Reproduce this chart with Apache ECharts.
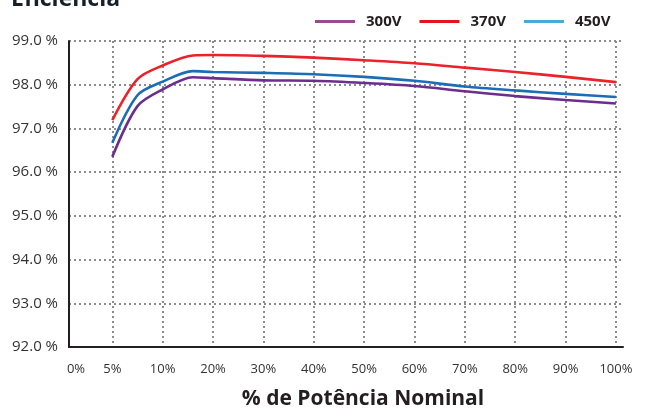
<!DOCTYPE html>
<html>
<head>
<meta charset="utf-8">
<script src="https://cdn.jsdelivr.net/npm/echarts@6/dist/echarts.min.js"></script>
<style>
html,body{margin:0;padding:0;background:#fff;}
#chart{width:654px;height:412px;}
</style>
</head>
<body>
<div id="chart"></div>
<script>
// ---- data ----
var xTickLabels = ['0%','5%','10%','20%','30%','40%','50%','60%','70%','80%','90%','100%'];
var loadPct = [5, 7.5, 10, 16, 20, 30, 40, 50, 60, 70, 80, 90, 100];
var eff300 = [96.35, 97.51, 97.89, 98.17, 98.15, 98.10, 98.09, 98.04, 97.97, 97.85, 97.74, 97.65, 97.57];
var eff370 = [97.19, 98.13, 98.44, 98.67, 98.68, 98.66, 98.62, 98.56, 98.49, 98.39, 98.29, 98.18, 98.06];
var eff450 = [96.67, 97.76, 98.07, 98.31, 98.29, 98.27, 98.24, 98.18, 98.09, 97.96, 97.87, 97.79, 97.72];
var seriesNames = ['300V', '370V', '450V'];
var yMin = 92, yMax = 99;

// the x axis is non-linear: 0,5,10 then steps of 10 -> map % to tick index
function pctToIndex(p){ return p <= 10 ? p / 5 : 1 + p / 10; }
var tickPcts = [0,5,10,20,30,40,50,60,70,80,90,100];
function pairs(vals){ return loadPct.map(function(p,i){ return [pctToIndex(p), vals[i]]; }); }

var font = '"Open Sans", "DejaVu Sans", sans-serif';
var gridIdx = tickPcts.map(pctToIndex);
var xMin = 0.14, xMax = 11.14;

var chart = echarts.init(document.getElementById('chart'));
var lineCol = ['#6b2e8f', '#e8232a', '#1c6db4'];
var legendCol = ['#9b4a8e', '#e3141d', '#4aa8e0'];
var gridLine = {color: '#8c8c8c', type: [2, 3], width: 2};

chart.setOption({
  backgroundColor: '#fff',
  animation: false,
  title: {
    text: 'Eficiência', left: 6, top: -17,
    textStyle: {fontFamily: font, fontWeight: 'bold', fontSize: 23, color: '#16202c'}
  },
  legend: {
    left: 310, top: 9, itemWidth: 40, itemHeight: 3, itemGap: 18, icon: 'rect',
    textStyle: {fontFamily: font, fontWeight: 'bold', fontSize: 15, color: '#231f20', padding: [0,0,0,6]},
    data: seriesNames.map(function(n,i){ return {name: n, itemStyle: {color: legendCol[i]}}; })
  },
  grid: {left: 69, right: 31, top: 41, bottom: 65, containLabel: false, outerBoundsMode: 'none'},
  xAxis: {
    type: 'value', min: xMin, max: xMax,
    name: '% de Potência Nominal', nameLocation: 'middle', nameGap: 42,
    nameTextStyle: {fontFamily: font, fontWeight: 'bold', fontSize: 21, color: '#231f20', padding: [0,0,0,34]},
    axisLine: {show: true, lineStyle: {color: '#231f20', width: 2}},
    axisTick: {show: false, customValues: gridIdx.slice(1)},
    axisLabel: {
      customValues: [xMin].concat(gridIdx.slice(1)),
      fontFamily: font, fontSize: 13, color: '#333', margin: 16,
      formatter: function(v){
        if (v < 0.5) return '{z|' + xTickLabels[0] + '}';
        return xTickLabels[Math.round(v)];
      },
      rich: {z: {fontFamily: font, fontSize: 13, color: '#333', padding: [0,0,0,14]}}
    },
    splitLine: {show: true, lineStyle: gridLine}
  },
  yAxis: {
    type: 'value', min: yMin, max: yMax, interval: 1,
    axisLine: {show: true, lineStyle: {color: '#231f20', width: 2}},
    axisTick: {show: false},
    axisLabel: {fontFamily: font, fontSize: 15, color: '#333', margin: 11,
      formatter: function(v){ return v.toFixed(1) + ' %'; }},
    splitLine: {show: true, lineStyle: gridLine}
  },
  series: [eff300, eff370, eff450].map(function(vals, i){
    return {
      name: seriesNames[i], type: 'line', data: pairs(vals),
      showSymbol: false, smooth: 0.3,
      lineStyle: {color: lineCol[i], width: 2.6},
      itemStyle: {color: lineCol[i]}
    };
  })
});
</script>
</body>
</html>
